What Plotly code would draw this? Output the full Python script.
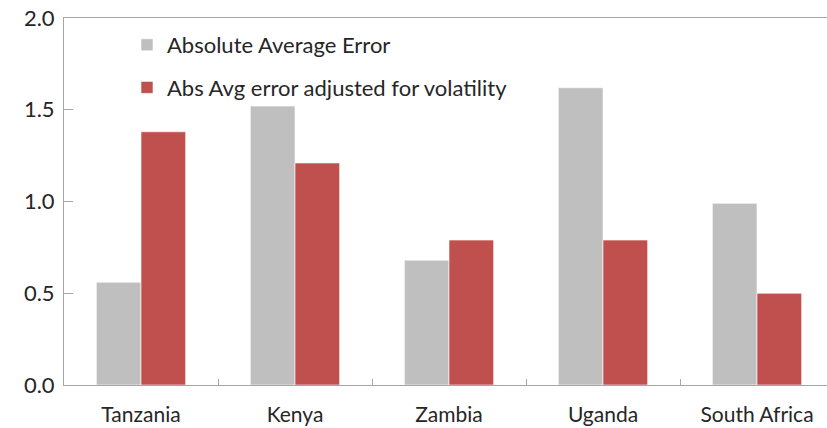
import plotly.graph_objects as go

categories = ["Tanzania", "Kenya", "Zambia", "Uganda", "South Africa"]
abs_avg_error = [0.56, 1.52, 0.68, 1.62, 0.99]
adj_for_volatility = [1.38, 1.21, 0.79, 0.79, 0.50]
y_ticks = [0.0, 0.5, 1.0, 1.5, 2.0]

W, H = 827, 428
ml, mr, mt, mb = 64, 0, 18, 43
PW, PH = W - ml - mr, H - mt - mb
CAT_W = 154  # pixel width of one category band (plot is cropped on the right)

fig = go.Figure()
fig.add_trace(go.Bar(x=categories, y=abs_avg_error, name="Absolute Average Error",
                     marker=dict(color="#BFBFBF", line=dict(color="white", width=0.6)),
                     legendgroup="a"))
fig.add_trace(go.Bar(x=categories, y=adj_for_volatility, name="Abs Avg error adjusted for volatility",
                     marker=dict(color="#C0504D", line=dict(color="white", width=0.6)),
                     legendgroup="b"))

fig.update_layout(
    width=W, height=H,
    margin=dict(l=ml, r=mr, t=mt, b=mb, autoexpand=False),
    paper_bgcolor="white", plot_bgcolor="white",
    barmode="group", bargap=0.42, bargroupgap=0,
    font=dict(family="Lato", size=22, color="#262626"),
    showlegend=True,
    legend=dict(x=(127 - ml) / PW, y=1.0 - 6 / PH, xanchor="left", yanchor="top",
                bgcolor="rgba(0,0,0,0)", font=dict(size=22, color="#262626"),
                traceorder="grouped", tracegroupgap=11, itemclick=False),
    xaxis=dict(range=[-0.5, -0.5 + PW / CAT_W],
               showline=True, linecolor="#A6A6A6", linewidth=1, mirror=True,
               ticks="inside", tickson="boundaries", ticklen=6, tickcolor="#A6A6A6",
               showgrid=False, tickfont=dict(size=21), automargin=False,
               ticklabelstandoff=11),
    yaxis=dict(range=[0, 2], tickvals=y_ticks, tickformat=".1f", showline=True,
               linecolor="#A6A6A6", linewidth=1, ticks="inside", ticklen=9,
               tickcolor="#A6A6A6", showgrid=False, zeroline=False,
               tickfont=dict(size=22), ticklabelstandoff=4, automargin=False),
)
fig.write_html("out.html", config={"displayModeBar": False},
               post_script="document.body.style.margin='0';document.body.style.overflow='hidden';")
